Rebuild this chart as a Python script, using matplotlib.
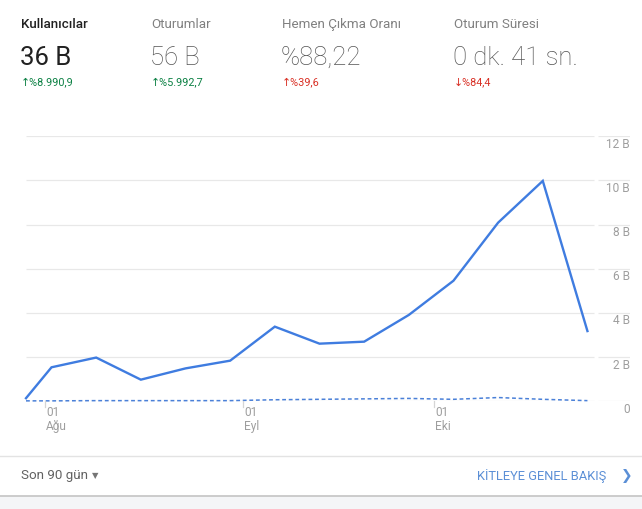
import matplotlib.pyplot as plt
import matplotlib.transforms as mtransforms
from matplotlib.lines import Line2D
from matplotlib.patches import Rectangle
import pandas as pd

plt.rcParams['font.family'] = ['Roboto', 'DejaVu Sans']

# weekly data points (first point is the start of the 90 day range)
dates = pd.to_datetime(['2019-07-29', '2019-08-02', '2019-08-09', '2019-08-16', '2019-08-23',
                        '2019-08-30', '2019-09-06', '2019-09-13', '2019-09-20', '2019-09-27',
                        '2019-10-04', '2019-10-11', '2019-10-18', '2019-10-25'])
users = [0.14, 1.54, 1.98, 0.98, 1.49, 1.84, 3.38, 2.61, 2.70, 3.91, 5.46, 8.09, 9.98, 3.18]
users_prev = [0.02, 0.02, 0.03, 0.03, 0.03, 0.03, 0.07, 0.09, 0.11, 0.13, 0.09, 0.17, 0.09, 0.03]

y_ticks = [0, 2, 4, 6, 8, 10, 12]
y_labels = ['0', '2 B', '4 B', '6 B', '8 B', '10 B', '12 B']
x_ticks = pd.to_datetime(['2019-08-01', '2019-09-01', '2019-10-01'])
x_labels = ['01\nAğu', '01\nEyl', '01\nEki']

metrics = ['Kullanıcılar', 'Oturumlar', 'Hemen Çıkma Oranı', 'Oturum Süresi']
metric_values = ['36 B', '56 B', '%88,22', '0 dk. 41 sn.']
metric_changes = ['↑%8.990,9', '↑%5.992,7', '↑%39,6', '↓%84,4']

W, H = 642, 510
def fx(px):
    return px / W
def fy(py):
    return 1 - py / H

fig = plt.figure(figsize=(W / 100, H / 100), dpi=100)
fig.patch.set_facecolor('white')

# header scorecards
col_x = [21, 151, 282, 454]
change_colors = ['#0b8043', '#0b8043', '#d93025', '#d93025']
for i in range(4):
    sel = i == 0
    fig.text(fx(col_x[i]), fy(24.5), metrics[i], fontsize=9.6, va='center', ha='left',
             color='#212121' if sel else '#808080', weight='medium' if sel else 'normal')
    fig.text(fx(col_x[i] - 1), fy(58), metric_values[i], fontsize=18.5, va='center', ha='left',
             color='#212121' if sel else '#555555', weight='normal' if sel else 'light')
    fig.text(fx(col_x[i]), fy(82.5), metric_changes[i], fontsize=7.8, va='center', ha='left',
             color=change_colors[i])

# chart
ax = fig.add_axes([fx(26), fy(402.3), fx(630) - fx(26), (402.3 - 137.3) / H])
x0 = dates[0]
px_day = 6.38
day = pd.Timedelta(days=1)
ax.set_xlim(x0, x0 + (630 - 26) / px_day * day)
ax.set_ylim(0, 12)
for s in ax.spines.values():
    s.set_visible(False)

grid_end = x0 + (594 - 26) / px_day * day
lab_start = x0 + (598 - 26) / px_day * day
ax.hlines(y_ticks, x0, grid_end, color='#e8e8e8', lw=0.9, zorder=1)
ax.hlines(y_ticks, lab_start, ax.get_xlim()[1], color='#e8e8e8', lw=0.9, zorder=1)

ax.plot(dates, users_prev, color='#4a80d8', lw=1.1, ls=(0, (2.5, 1.8)), zorder=2, clip_on=False)
ax.plot(dates, users, color='#3f7ce0', lw=1.7, zorder=3, clip_on=False, solid_joinstyle='miter')

ax.set_xticks([])
ax.set_yticks([])

lab_tr = mtransforms.offset_copy(ax.transData, fig=fig, x=0, y=-7, units='dots')
for v, lab in zip(y_ticks, y_labels):
    ax.text(ax.get_xlim()[1], v, lab, transform=lab_tr, ha='right', va='center',
            fontsize=8.6, color='#9e9e9e', clip_on=False)

tick_tr = mtransforms.blended_transform_factory(ax.transData, ax.transAxes)
for d, lab in zip(x_ticks, x_labels):
    ax.add_line(Line2D([d, d], [0, -0.02], transform=tick_tr, color='#d5d5d5', lw=0.9, clip_on=False))
    t_tr = mtransforms.offset_copy(tick_tr, fig=fig, x=1, y=-4, units='dots')
    ax.text(d, 0, lab, transform=t_tr, ha='left', va='top', fontsize=8.6, color='#9e9e9e',
            linespacing=1.05, clip_on=False)

# footer
fig.add_artist(Line2D([0, 1], [fy(456.7), fy(456.7)], color='#e3e3e3', lw=1.0))
fig.add_artist(Rectangle((0, 0), 1, fy(497), color='#f4f5f7', lw=0))
fig.add_artist(Line2D([0, 1], [fy(496.7), fy(496.7)], color='#c4c4c4', lw=1.2))
fig.text(fx(21), fy(476), 'Son 90 gün', fontsize=9.6, va='center', ha='left', color='#616161')
fig.text(fx(92), fy(476), '▼', fontsize=6, va='center', ha='left', color='#757575',
         family='DejaVu Sans')
fig.text(fx(606), fy(476), 'KİTLEYE GENEL BAKIŞ', fontsize=9.3, va='center', ha='right',
         color='#5b8fd6')
fig.text(fx(627), fy(476), '❯', fontsize=10, va='center', ha='center', color='#5b8fd6',
         family='DejaVu Sans')

fig.savefig('out.png', dpi=100)
